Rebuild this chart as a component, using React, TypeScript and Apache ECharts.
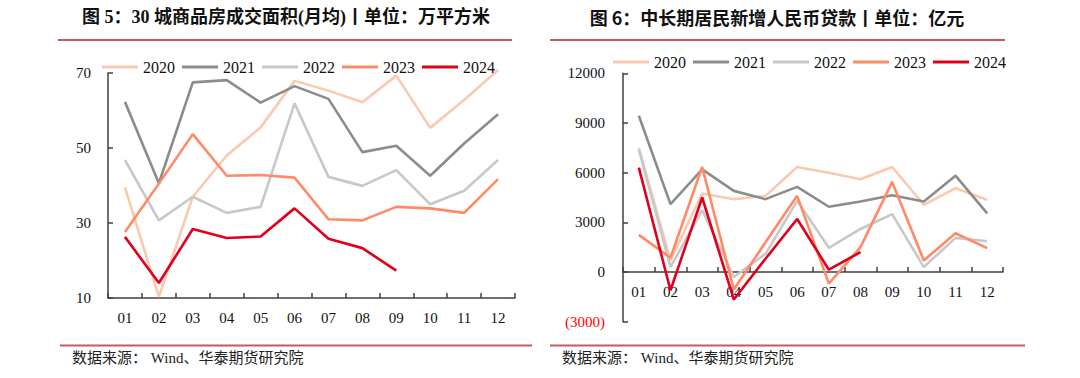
import React, { useEffect, useRef } from "react";
import * as echarts from "echarts";

const months = ["01", "02", "03", "04", "05", "06", "07", "08", "09", "10", "11", "12"];
const years = ["2020", "2021", "2022", "2023", "2024"];

const area2020 = [39.5, 10.3, 37, 48, 55.5, 67.9, 65.3, 62.2, 69.3, 55.4, 62.8, 70.8];
const area2021 = [62.3, 40.6, 67.5, 68.1, 62.1, 66.5, 63.1, 48.9, 50.6, 42.6, 51.2, 59];
const area2022 = [46.8, 30.7, 37, 32.7, 34.3, 61.9, 42.3, 39.9, 44.1, 35, 38.6, 46.8];
const area2023 = [27.6, 40.5, 53.7, 42.6, 42.8, 42.1, 31, 30.7, 34.3, 33.9, 32.7, 41.7];
const area2024 = [26.3, 14, 28.4, 26, 26.4, 33.9, 25.8, 23.3, 17.3];

const loan2020 = [7500, 700, 4740, 4400, 4600, 6340, 6000, 5600, 6340, 4060, 5060, 4360];
const loan2021 = [9440, 4100, 6200, 4900, 4400, 5140, 3940, 4260, 4640, 4260, 5820, 3540];
const loan2022 = [7400, 300, 3740, -300, 1100, 4300, 1460, 2600, 3500, 300, 2060, 1860];
const loan2023 = [2240, 860, 6340, -1060, 1800, 4600, -700, 1500, 5440, 700, 2340, 1440];
const loan2024 = [6300, -1100, 4500, -1660, 800, 3200, 140, 1200];

const colors = ["#F9C9B0", "#8C8C8C", "#C8C8C8", "#FF8A65", "#E0001B"];

const title1 = "图 5：30 城商品房成交面积(月均)丨单位：万平方米";
const title2 = "图 6：中长期居民新增人民币贷款丨单位：亿元";
const source = "数据来源： Wind、华泰期货研究院";

export default function App() {
  const ref = useRef<HTMLDivElement>(null);
  useEffect(() => {
    if (!ref.current) return;
    const chart = echarts.init(ref.current, null, { renderer: "svg" });
    const serif = "'Liberation Serif', 'Noto Sans CJK SC', serif";
    const axisLabel = { fontFamily: serif, fontSize: 15, color: "#111" };
    const axisLine = { show: true, onZero: false, lineStyle: { color: "#404040", width: 1.5 } };
    const tick = { show: true, inside: true, length: 5, lineStyle: { color: "#404040", width: 1.5 } };
    const areaData = [area2020, area2021, area2022, area2023, area2024];
    const loanData = [loan2020, loan2021, loan2022, loan2023, loan2024];
    const series: any[] = [];
    years.forEach((y, i) => {
      series.push({
        name: y, type: "line", xAxisIndex: 0, yAxisIndex: 0, data: areaData[i],
        showSymbol: false, symbol: "none", clip: false,
        lineStyle: { color: colors[i], width: 2.6 }, itemStyle: { color: colors[i] },
      });
    });
    years.forEach((y, i) => {
      series.push({
        name: y, type: "line", xAxisIndex: 1, yAxisIndex: 1, data: loanData[i],
        showSymbol: false, symbol: "none", clip: false,
        lineStyle: { color: colors[i], width: 2.6 }, itemStyle: { color: colors[i] },
      });
    });
    const legendBase = {
      data: years, icon: "rect", itemWidth: 36, itemHeight: 3, itemGap: 7,
      textStyle: { fontFamily: serif, fontSize: 16, color: "#111" },
      selectedMode: false,
    };
    const lineColor = "#C9585A";
    // zero line offset for the right chart: (0 - min) / (max - min) * height
    const rightHeight = 248.4;
    const zeroOffset = (3000 / 15000) * rightHeight;
    chart.setOption({
      animation: false,
      backgroundColor: "#fff",
      legend: [
        { ...legendBase, left: 97, top: 54 },
        { ...legendBase, left: 608, top: 49 },
      ],
      grid: [
        { left: 108, top: 73, width: 407, height: 225 },
        { left: 623, top: 73.3, width: 380, height: rightHeight },
      ],
      xAxis: [
        {
          type: "category", data: months, gridIndex: 0, boundaryGap: true,
          axisLine, axisTick: tick,
          axisLabel: { ...axisLabel, margin: 12 },
        },
        {
          type: "category", data: months, gridIndex: 1, boundaryGap: true,
          position: "bottom", offset: -zeroOffset,
          axisLine, axisTick: tick,
          axisLabel: { ...axisLabel, margin: 12 },
        },
      ],
      yAxis: [
        {
          type: "value", gridIndex: 0, min: 10, max: 70, interval: 20,
          axisLine, axisTick: tick,
          splitLine: { show: false }, axisLabel: { ...axisLabel, margin: 17 },
        },
        {
          type: "value", gridIndex: 1, min: -3000, max: 12000, interval: 3000,
          axisLine, axisTick: tick,
          splitLine: { show: false },
          axisLabel: {
            ...axisLabel, margin: 18,
            formatter: (v: number) => (v < 0 ? "{neg|(" + -v + ")}" : String(v)),
            rich: { neg: { color: "#FF0000", fontFamily: serif, fontSize: 15 } },
          },
        },
      ],
      series,
      graphic: [
        {
          type: "text", x: 286, y: 17,
          style: { text: title1, fontSize: 18, fontWeight: "bold", fontFamily: "'Liberation Serif', 'Noto Sans CJK SC', sans-serif", fill: "#111", align: "center", verticalAlign: "middle" },
        },
        {
          type: "text", x: 777, y: 17,
          style: { text: title2, fontSize: 18, fontWeight: "bold", fontFamily: "'Noto Sans CJK SC', sans-serif", fill: "#111", align: "center", verticalAlign: "middle" },
        },
        { type: "line", shape: { x1: 58, y1: 40, x2: 512, y2: 40 }, style: { stroke: lineColor, lineWidth: 2 } },
        { type: "line", shape: { x1: 550, y1: 40, x2: 1005, y2: 40 }, style: { stroke: lineColor, lineWidth: 2 } },
        { type: "line", shape: { x1: 60, y1: 345.5, x2: 532, y2: 345.5 }, style: { stroke: lineColor, lineWidth: 2 } },
        { type: "line", shape: { x1: 550, y1: 345.5, x2: 1025, y2: 345.5 }, style: { stroke: lineColor, lineWidth: 2 } },
        {
          type: "text", x: 72, y: 358,
          style: { text: source, fontSize: 15, fontFamily: serif, fill: "#222", align: "left", verticalAlign: "middle" },
        },
        {
          type: "text", x: 562, y: 358,
          style: { text: source, fontSize: 15, fontFamily: serif, fill: "#222", align: "left", verticalAlign: "middle" },
        },
      ],
    });
    return () => chart.dispose();
  }, []);
  return (
    <div
      ref={ref}
      style={{ position: "fixed", left: 0, top: 0, width: 1080, height: 378, background: "#fff" }}
    />
  );
}
